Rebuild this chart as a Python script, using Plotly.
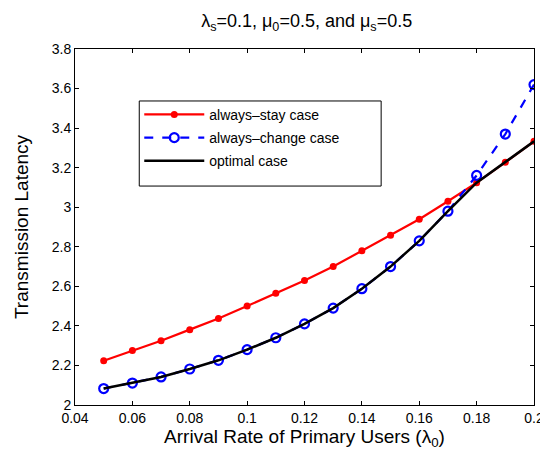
import plotly.graph_objects as go

x_vals = [0.05, 0.06, 0.07, 0.08, 0.09, 0.10, 0.11, 0.12, 0.13, 0.14, 0.15, 0.16, 0.17, 0.18, 0.19, 0.20]
always_stay = [2.224, 2.275, 2.325, 2.381, 2.437, 2.50, 2.565, 2.63, 2.70, 2.78, 2.858, 2.939, 3.03, 3.124, 3.227, 3.333]
always_change = [2.083, 2.111, 2.142, 2.182, 2.226, 2.28, 2.34, 2.41, 2.49, 2.588, 2.70, 2.83, 2.98, 3.161, 3.37, 3.62]
optimal = [min(a, b) for a, b in zip(always_stay, always_change)]

x_ticks = [0.04, 0.06, 0.08, 0.1, 0.12, 0.14, 0.16, 0.18, 0.2]
x_tick_labels = ["0.04", "0.06", "0.08", "0.1", "0.12", "0.14", "0.16", "0.18", "0.2"]
y_ticks = [2, 2.2, 2.4, 2.6, 2.8, 3, 3.2, 3.4, 3.6, 3.8]
y_tick_labels = ["2", "2.2", "2.4", "2.6", "2.8", "3", "3.2", "3.4", "3.6", "3.8"]

font_family = "Liberation Sans, Arial, Helvetica, sans-serif"

fig = go.Figure()
fig.add_trace(go.Scatter(
    x=x_vals, y=always_stay, name="always\u2013stay case", mode="lines+markers",
    legendgroup="a",
    line=dict(color="#ff0000", width=2.2),
    marker=dict(symbol="circle", size=7, color="#ff0000"),
))
fig.add_trace(go.Scatter(
    x=x_vals, y=always_change, name="always\u2013change case", mode="lines+markers",
    legendgroup="b",
    line=dict(color="#0000ff", width=2.2, dash="dash"),
    marker=dict(symbol="circle-open", size=9, color="#0000ff", line=dict(width=2.2, color="#0000ff")),
))
fig.add_trace(go.Scatter(
    x=x_vals, y=optimal, name="optimal case", mode="lines",
    legendgroup="c",
    line=dict(color="#000000", width=2.5),
))

axis_common = dict(
    showline=True, linecolor="black", linewidth=1, mirror="ticks",
    ticks="inside", ticklen=4, tickcolor="black", showgrid=False, zeroline=False,
    tickfont=dict(size=14, color="black", family=font_family),
)

# legend frame (wider than Plotly's auto-sized box, like the original)
fig.add_shape(
    type="rect", xref="paper", yref="paper",
    x0=0.140, x1=0.667, y0=0.615, y1=0.854,
    line=dict(color="black", width=1), fillcolor="white", layer="above",
)

fig.update_layout(
    width=548, height=451,
    margin=dict(l=63, r=14, t=41, b=54),
    paper_bgcolor="white", plot_bgcolor="white",
    font=dict(family=font_family, color="black"),
    title=dict(
        text="\u03bb<sub>s</sub>=0.1, \u03bc<sub>0</sub>=0.5, and \u03bc<sub>s</sub>=0.5",
        x=0.545, xanchor="center", y=0.985, yanchor="top",
        font=dict(size=18, color="black", family=font_family),
    ),
    xaxis=dict(
        range=[0.04, 0.2], tickvals=x_ticks, ticktext=x_tick_labels,
        title=dict(text="Arrival Rate of Primary Users (\u03bb<sub>0</sub>)", standoff=2,
                   font=dict(size=19, color="black", family=font_family)),
        **axis_common,
    ),
    yaxis=dict(
        range=[2, 3.8], tickvals=y_ticks, ticktext=y_tick_labels,
        title=dict(text="Transmission Latency", standoff=18,
                   font=dict(size=19, color="black", family=font_family)),
        **axis_common,
    ),
    legend=dict(
        x=0.14, y=0.86, xanchor="left", yanchor="top",
        bgcolor="rgba(0,0,0,0)", borderwidth=0,
        font=dict(size=14, color="black", family=font_family),
        itemwidth=60,
        traceorder="grouped", tracegroupgap=2,
    ),
    showlegend=True,
)

fig.write_html("out.html")
